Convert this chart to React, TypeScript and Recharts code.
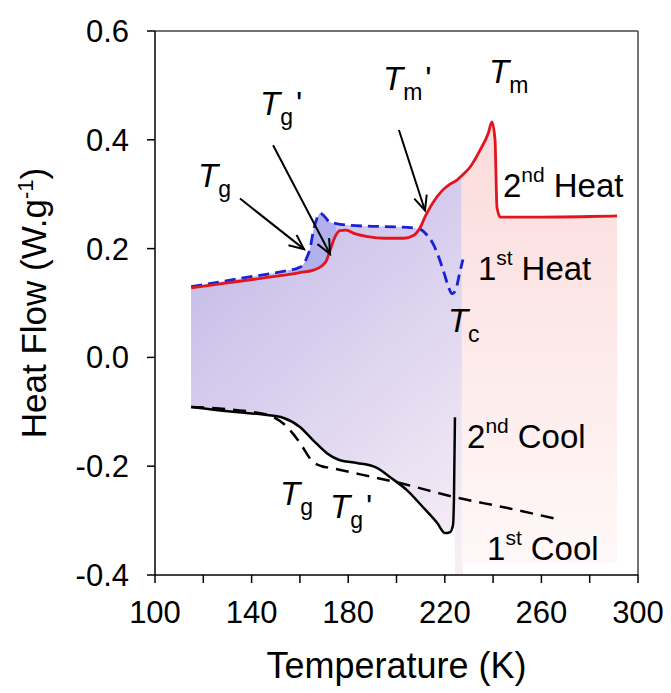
import React from "react";
import {
  Area,
  ComposedChart,
  Line,
  ReferenceDot,
  ReferenceLine,
  XAxis,
  YAxis,
} from "recharts";

const FONT = '"Liberation Sans", Arial, sans-serif';
const INK = "#000";

// temperature (K) / heat flow (W/g)
const heat2T = [115, 130, 145, 160, 166, 169, 171, 172.5, 174.5, 176.5, 179, 183, 188, 195, 203, 207, 209.7, 212, 215, 219, 222, 225, 227, 230.5, 234.6, 238, 239.5, 240.8, 241.6, 243, 260, 280, 291.3];
const heat2HF = [0.128, 0.137, 0.146, 0.156, 0.161, 0.168, 0.178, 0.197, 0.221, 0.233, 0.234, 0.227, 0.222, 0.219, 0.219, 0.224, 0.238, 0.26, 0.284, 0.307, 0.318, 0.326, 0.334, 0.35, 0.381, 0.412, 0.433, 0.4, 0.276, 0.258, 0.258, 0.259, 0.26];

const heat1T = [115, 135, 155, 159, 161.3, 163, 164.2, 165.4, 167, 168.5, 170, 172, 175, 180, 190, 200, 207, 210, 212.6, 215, 217, 219.5, 221.5, 223, 224.5, 226, 227.5];
const heat1HF = [0.13, 0.145, 0.16, 0.164, 0.17, 0.185, 0.2, 0.229, 0.255, 0.265, 0.26, 0.25, 0.246, 0.243, 0.241, 0.24, 0.238, 0.235, 0.225, 0.21, 0.19, 0.158, 0.13, 0.117, 0.124, 0.152, 0.18];

const cool2T = [115, 132.3, 146.4, 153, 160, 165.4, 171.2, 176.6, 183.6, 191.9, 197.3, 204.3, 210.9, 216.8, 220.1, 222.2, 223.4, 223.8, 224.2];
const cool2HF = [-0.091, -0.1, -0.106, -0.111, -0.128, -0.152, -0.176, -0.189, -0.194, -0.203, -0.22, -0.244, -0.275, -0.304, -0.323, -0.321, -0.308, -0.257, -0.11];

const cool1T = [115, 146.4, 150, 153, 156.5, 160, 165.4, 169, 172.5, 185, 201.4, 224.2, 245, 266.4];
const cool1HF = [-0.091, -0.105, -0.112, -0.121, -0.137, -0.157, -0.192, -0.2, -0.203, -0.215, -0.231, -0.257, -0.276, -0.297];

const xTicks = [100, 120, 140, 160, 180, 200, 220, 240, 260, 280, 300];
const yTicks = [-0.4, -0.2, 0, 0.2, 0.4, 0.6];

// transition symbols: anchor in data units, T with subscript, optional prime
const symbols = [
  { t: 117.8, hf: 0.313, sub: "g", prime: false },
  { t: 143.5, hf: 0.446, sub: "g", prime: true },
  { t: 194.4, hf: 0.492, sub: "m", prime: true },
  { t: 238.3, hf: 0.504, sub: "m", prime: false },
  { t: 221.3, hf: 0.047, sub: "c", prime: false },
  { t: 151.8, hf: -0.271, sub: "g", prime: false },
  { t: 172.5, hf: -0.295, sub: "g", prime: true },
];

const runLabels = [
  { t: 244.1, hf: 0.295, n: "2", sup: "nd", word: "Heat" },
  { t: 233.7, hf: 0.142, n: "1", sup: "st", word: "Heat" },
  { t: 229.2, hf: -0.167, n: "2", sup: "nd", word: "Cool" },
  { t: 237.5, hf: -0.372, n: "1", sup: "st", word: "Cool" },
];

// arrows: tail -> tip
const arrows = [
  [{ x: 135.2, y: 0.292 }, { x: 161.7, y: 0.199 }],
  [{ x: 148.9, y: 0.39 }, { x: 172.5, y: 0.19 }],
  [{ x: 201, y: 0.418 }, { x: 211.8, y: 0.27 }],
];

const rows = (ts: number[], vs: number[]) => ts.map((t, i) => ({ t, hf: vs[i] }));

const heat2 = rows(heat2T, heat2HF);
const heat1 = rows(heat1T, heat1HF);
const cool2 = rows(cool2T, cool2HF);
const cool1 = rows(cool1T, cool1HF);

const BASE = -0.398;

function ArrowShape(p: any) {
  const { x1, y1, x2, y2 } = p;
  const a = Math.atan2(y2 - y1, x2 - x1);
  const L = 16;
  const w = 0.42;
  const hx1 = x2 - L * Math.cos(a - w);
  const hy1 = y2 - L * Math.sin(a - w);
  const hx2 = x2 - L * Math.cos(a + w);
  const hy2 = y2 - L * Math.sin(a + w);
  return (
    <g>
      <line x1={x1} y1={y1} x2={x2} y2={y2} stroke={INK} strokeWidth={2} />
      <polyline
        points={`${hx1},${hy1} ${x2},${y2} ${hx2},${hy2}`}
        fill="none"
        stroke={INK}
        strokeWidth={2}
      />
    </g>
  );
}

const symbolShape = (sub: string, prime: boolean) => (p: any) => (
  <text x={p.cx} y={p.cy} fontFamily={FONT} fontSize={33} fill={INK}>
    <tspan fontStyle="italic">T</tspan>
    <tspan fontSize={23} dy={10}>
      {sub}
    </tspan>
    {prime ? (
      <tspan dx={3} dy={-10}>
        '
      </tspan>
    ) : null}
  </text>
);

const runShape = (n: string, sup: string, word: string) => (p: any) => (
  <text x={p.cx} y={p.cy} fontFamily={FONT} fontSize={33} fill={INK}>
    <tspan>{n}</tspan>
    <tspan fontSize={21} dy={-15}>
      {sup}
    </tspan>
    <tspan dx={9} dy={15}>
      {word}
    </tspan>
  </text>
);

const xTitle = (props: any) => {
  const vb = props.viewBox ?? { x: 155, y: 575, width: 483, height: 118 };
  return (
    <text
      x={vb.x + vb.width / 2}
      y={vb.y + 103}
      textAnchor="middle"
      fontFamily={FONT}
      fontSize={36}
      fill={INK}
    >
      Temperature (K)
    </text>
  );
};

const yTitle = (props: any) => {
  const vb = props.viewBox ?? { x: 0, y: 31, width: 155, height: 544 };
  const cy = vb.y + vb.height / 2;
  const cx = 46;
  return (
    <text
      x={cx}
      y={cy}
      transform={`rotate(-90, ${cx}, ${cy})`}
      textAnchor="middle"
      fontFamily={FONT}
      fontSize={35}
      fill={INK}
    >
      Heat Flow (W.g
      <tspan fontSize={22} dy={-13}>
        -1
      </tspan>
      <tspan dy={13}>)</tspan>
    </text>
  );
};

export default function App() {
  return (
    <div style={{ position: "absolute", left: 0, top: 0, background: "#fff" }}>
      <ComposedChart
        width={671}
        height={693}
        margin={{ top: 31, right: 33, bottom: 0, left: 0 }}
      >
        <defs>
          <linearGradient id="violet" gradientUnits="userSpaceOnUse" x1={190} y1={240} x2={470} y2={560}>
            <stop offset="0%" stopColor="#c4bbe9" />
            <stop offset="100%" stopColor="#f8eff6" />
          </linearGradient>
          <linearGradient id="pink" gradientUnits="userSpaceOnUse" x1={0} y1={140} x2={0} y2={565}>
            <stop offset="0%" stopColor="#fbdcdc" />
            <stop offset="100%" stopColor="#fff8f8" />
          </linearGradient>
        </defs>

        <XAxis
          type="number"
          dataKey="t"
          domain={[100, 300]}
          ticks={xTicks}
          interval={0}
          tickFormatter={(v: number) => ((v - 100) % 40 === 0 ? String(v) : "")}
          height={118}
          tickSize={8}
          tickMargin={18}
          tick={{ fill: INK, fontSize: 31, fontFamily: FONT }}
          axisLine={{ stroke: INK, strokeWidth: 1.5 }}
          tickLine={{ stroke: INK, strokeWidth: 1.5 }}
          label={xTitle}
        />
        <YAxis
          type="number"
          domain={[-0.4, 0.6]}
          ticks={yTicks}
          interval={0}
          tickFormatter={(v: number) => v.toFixed(1)}
          width={155}
          tickSize={8}
          tickMargin={18}
          tick={{ fill: INK, fontSize: 31, fontFamily: FONT }}
          axisLine={{ stroke: INK, strokeWidth: 1.5 }}
          tickLine={{ stroke: INK, strokeWidth: 1.5 }}
          label={yTitle}
        />

        {/* violet fill under both heating traces, cut back to the 2nd cool */}
        <Area data={heat1} dataKey="hf" type="monotone" baseValue={BASE} stroke="none" fill="url(#violet)" fillOpacity={1} isAnimationActive={false} activeDot={false} />
        <Area data={heat1.filter((d) => d.t >= 155 && d.t <= 177)} dataKey="hf" type="monotone" baseValue={BASE} stroke="none" fill="#b2b1ee" fillOpacity={1} isAnimationActive={false} activeDot={false} />
        <Area data={heat2.filter((d) => d.t <= 227)} dataKey="hf" type="monotone" baseValue={BASE} stroke="none" fill="url(#violet)" fillOpacity={1} isAnimationActive={false} activeDot={false} />
        <Area data={cool2} dataKey="hf" type="monotone" baseValue={BASE} stroke="#fff" strokeWidth={2} fill="#fff" fillOpacity={1} isAnimationActive={false} activeDot={false} />
        {/* mask the anti-aliased seam on the left edge of the cut */}
        <ReferenceLine segment={[{ x: 115, y: BASE }, { x: 115, y: -0.096 }]} stroke="#fff" strokeWidth={2} />
        <Area data={heat2.filter((d) => d.t >= 227)} dataKey="hf" type="monotone" baseValue={-0.378} stroke="none" fill="url(#pink)" fillOpacity={1} isAnimationActive={false} activeDot={false} />

        <ReferenceLine y={0.6} stroke="#444" strokeWidth={1.5} />
        <ReferenceLine x={300} stroke="#444" strokeWidth={1.5} />

        <Line data={cool1} dataKey="hf" type="monotone" stroke={INK} strokeWidth={2.5} strokeDasharray="13 8" dot={false} activeDot={false} isAnimationActive={false} />
        <Line data={cool2} dataKey="hf" type="monotone" stroke={INK} strokeWidth={2.5} dot={false} activeDot={false} isAnimationActive={false} />
        <Line data={heat1} dataKey="hf" type="monotone" stroke="#1a22d8" strokeWidth={2.8} strokeDasharray="11 6" dot={false} activeDot={false} isAnimationActive={false} />
        <Line data={heat2} dataKey="hf" type="monotone" stroke="#e3141c" strokeWidth={2.8} dot={false} activeDot={false} isAnimationActive={false} />

        {arrows.map((seg, i) => (
          <ReferenceLine key={`a${i}`} segment={seg} shape={ArrowShape} />
        ))}
        {symbols.map((s, i) => (
          <ReferenceDot key={`s${i}`} x={s.t} y={s.hf} r={0} shape={symbolShape(s.sub, s.prime)} />
        ))}
        {runLabels.map((s, i) => (
          <ReferenceDot key={`r${i}`} x={s.t} y={s.hf} r={0} shape={runShape(s.n, s.sup, s.word)} />
        ))}
      </ComposedChart>
    </div>
  );
}
